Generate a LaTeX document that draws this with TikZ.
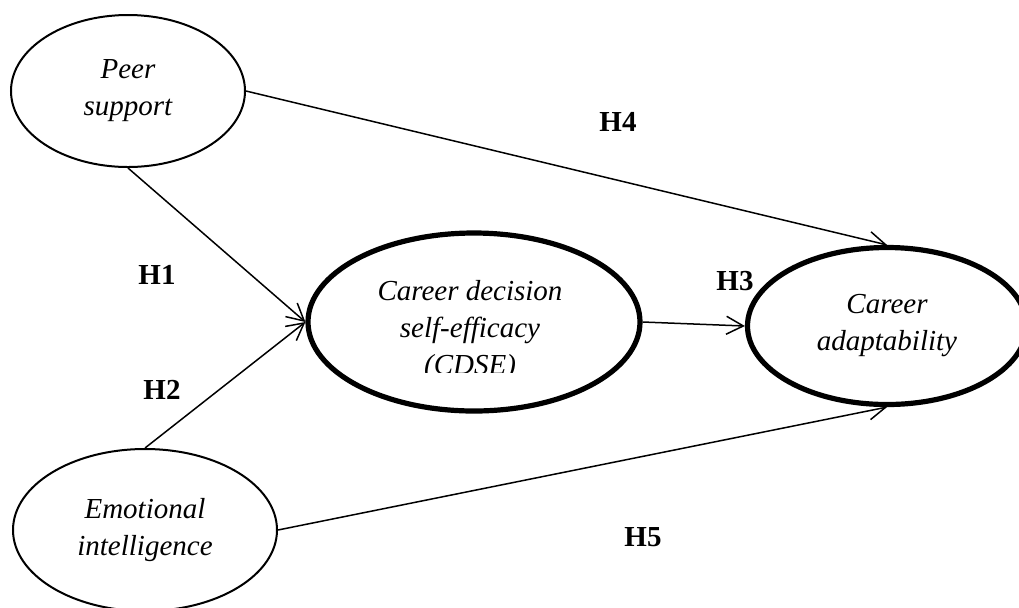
\documentclass[tikz,border=0pt]{standalone}
\usepackage{fontspec}
\setmainfont{Liberation Serif}
\usetikzlibrary{arrows.meta,shapes.geometric}
\tikzset{
  >={Straight Barb[length=8.5pt,width=9pt]},
  oval/.style={ellipse,draw,line width=1pt,inner sep=0pt,align=center,
    font=\fontsize{14.5}{18.5}\selectfont\itshape},
  thickoval/.style={oval,line width=2.6pt},
  ovaltext/.style={inner sep=0pt,align=center,font=\fontsize{14.5}{18.5}\selectfont\itshape},
  hyp/.style={inner sep=0pt,font=\fontsize{14.5}{17}\selectfont\bfseries},
  link/.style={->,line width=0.75pt},
}
\begin{document}
\begin{tikzpicture}[x=0.5pt,y=-0.5pt]
\clip (0,0) rectangle (1019,607);
% constructs
\node[oval,minimum width=117pt,minimum height=76pt] (peer) at (128,91) {Peer\\support};
\node[oval,minimum width=132pt,minimum height=81pt] (emo) at (145,530) {Emotional\\intelligence};
\node[thickoval,minimum width=166pt,minimum height=89pt] (cdse) at (474,322) {};
\begin{scope}
  \clip (300,230) rectangle (650,372);
  \node[ovaltext] (cdsetext) at (470,331) {Career decision\\self-efficacy\\(CDSE)};
\end{scope}
\node[thickoval,minimum width=139.5pt,minimum height=78.5pt] (adapt) at (887,326) {Career\\adaptability};
% paths
\draw[link] (peer.south) -- (cdse.west);
\draw[link] (emo.north) -- (cdse.west);
\draw[link] (cdse.east) -- (adapt.west);
\draw[link] (peer.east) -- (adapt.north);
\draw[link] (emo.east) -- (adapt.south);
% hypotheses
\node[hyp] (h1) at (157,275) {H1};
\node[hyp] (h2) at (162,390) {H2};
\node[hyp] (h3) at (735,281) {H3};
\node[hyp] (h4) at (618,122) {H4};
\node[hyp] (h5) at (643,537) {H5};
\end{tikzpicture}
\end{document}
